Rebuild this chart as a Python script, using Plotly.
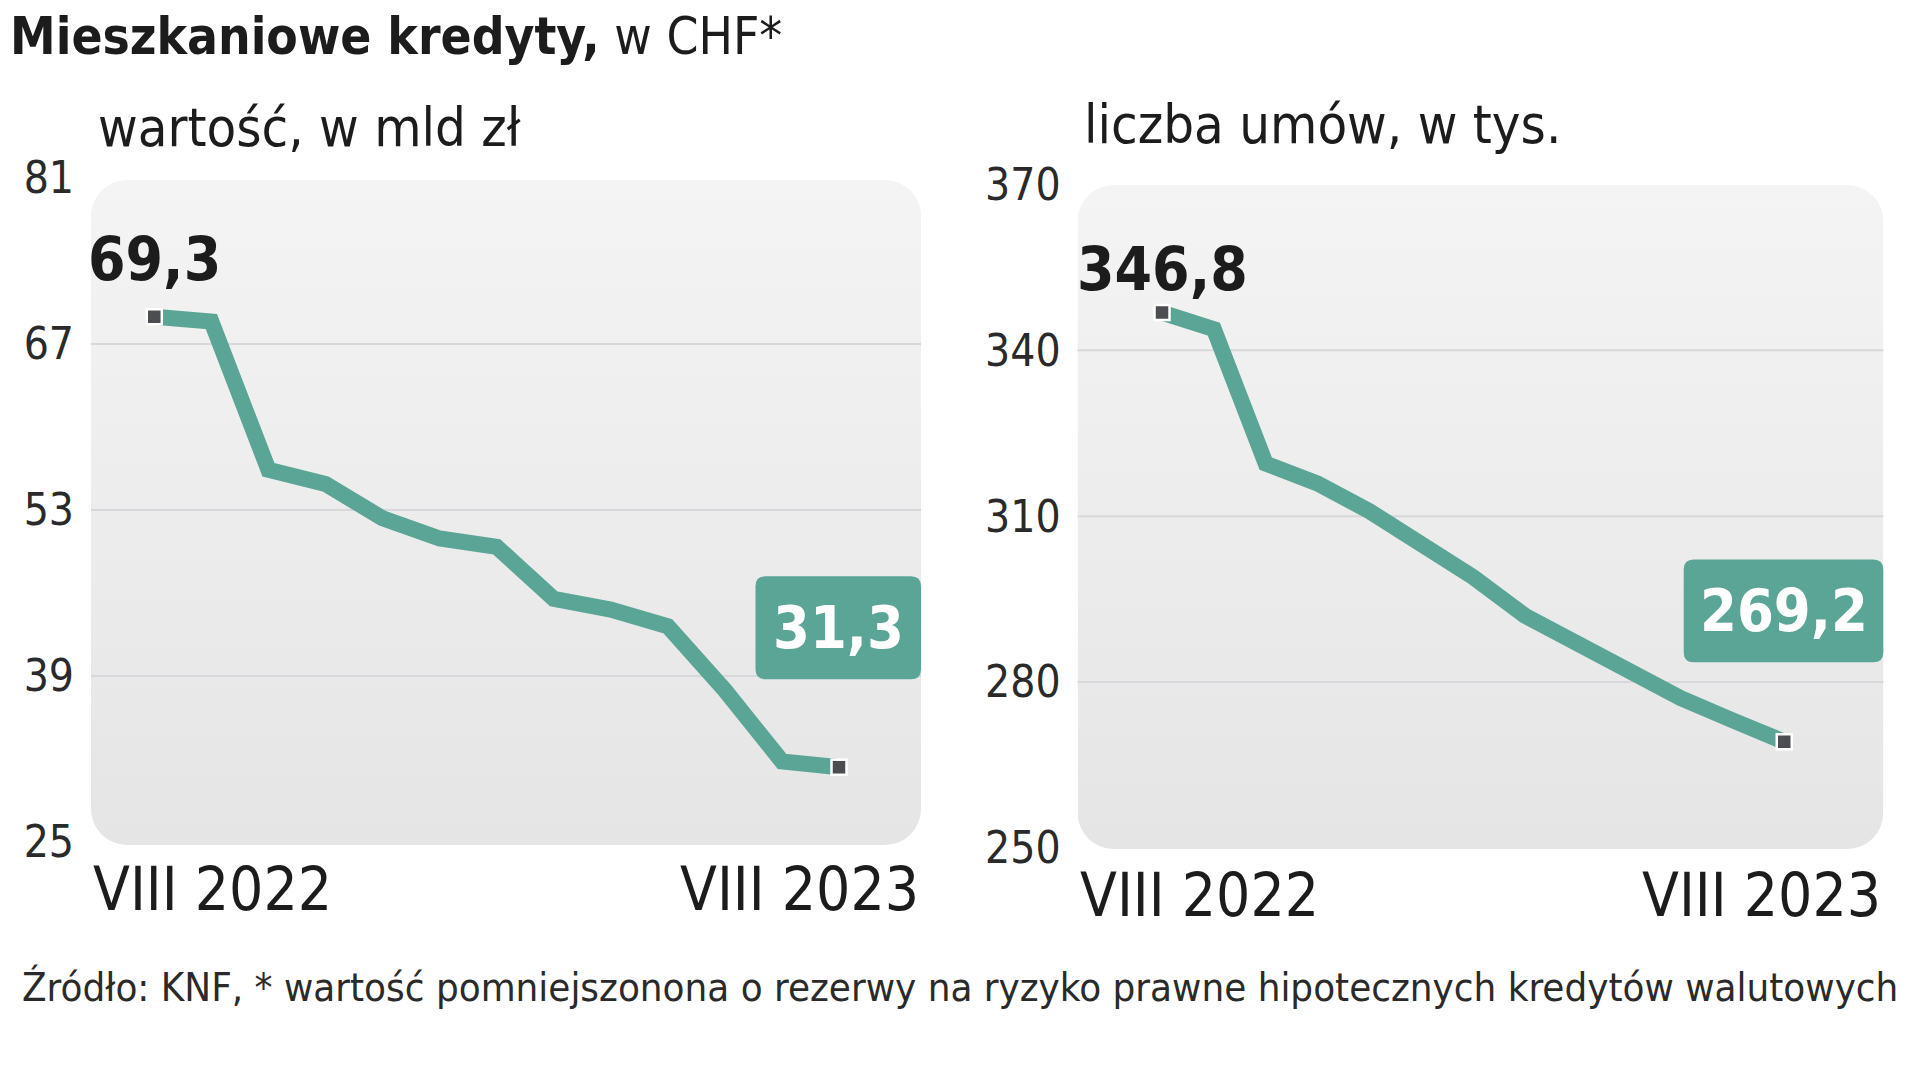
import base64
import plotly.graph_objects as go

# ---------------- data ----------------
months = ["VIII 2022", "IX 2022", "X 2022", "XI 2022", "XII 2022", "I 2023", "II 2023",
          "III 2023", "IV 2023", "V 2023", "VI 2023", "VII 2023", "VIII 2023"]
value_bn = [69.3, 68.9, 56.4, 55.2, 52.3, 50.6, 49.9, 45.5, 44.6, 43.2, 37.8, 31.8, 31.3]
contracts_k = [346.8, 343.8, 319.5, 315.9, 310.9, 305.2, 299.0, 292.0, 287.1, 282.4, 277.1, 273.1, 269.2]
left_ticks = [25, 39, 53, 67, 81]
right_ticks = [250, 280, 310, 340, 370]
title_bold = "Mieszkaniowe kredyty,"
title_rest = " w CHF*"
left_sub = "wartość, w mld zł"
right_sub = "liczba umów, w tys."
x_start_label = "VIII 2022"
x_end_label = "VIII 2023"
footer = "Źródło: KNF, * wartość pomniejszonona o rezerwy na ryzyko prawne hipotecznych kredytów walutowych"

# ---------------- style ----------------
W, H = 1920, 1067
OFF = 8  # page body margin
FONT = "DejaVu Sans Condensed, Liberation Sans Narrow, Roboto, sans-serif"
TEAL = "#5ba596"
DARK = "#1c1c1c"
MARK = "#4b4d51"
BG_TOP = "#f4f4f4"
BG_BOTTOM = "#e5e5e5"
GRID = "#d6d8db"


def fmt(v):
    return f"{v:.1f}".replace(".", ",")


def px_x(p):
    return (p - OFF) / W


def px_y(p):
    return 1 - (p - OFF) / H


def gradient_panel(w, h, r):
    svg = (f'<svg xmlns="http://www.w3.org/2000/svg" width="{w}" height="{h}" '
           f'viewBox="0 0 {w} {h}" preserveAspectRatio="none">'
           f'<defs><linearGradient id="g" x1="0" y1="0" x2="0" y2="1">'
           f'<stop offset="0" stop-color="{BG_TOP}"/><stop offset="1" stop-color="{BG_BOTTOM}"/>'
           f'</linearGradient></defs>'
           f'<rect x="0" y="0" width="{w}" height="{h}" rx="{r}" ry="{r}" fill="url(#g)"/></svg>')
    return "data:image/svg+xml;base64," + base64.b64encode(svg.encode()).decode()


def rounded_pixel(x0, y0, x1, y1, r):
    """rounded rect path in pixel offsets (y up)"""
    return (f"M {x0+r},{y0} L {x1-r},{y0} Q {x1},{y0} {x1},{y0+r} "
            f"L {x1},{y1-r} Q {x1},{y1} {x1-r},{y1} L {x0+r},{y1} "
            f"Q {x0},{y1} {x0},{y1-r} L {x0},{y0+r} Q {x0},{y0} {x0+r},{y0} Z")


panels = [
    dict(vals=value_bn, ticks=left_ticks, sub=left_sub,
         xl=91, xr=921, yt=178, yb=842, xrange=[-1.109, 13.437],
         rect=(91, 180, 921, 845), sub_x=96, sub_y=128,
         first_shift=58, box=(-165.5, 88, 0, 191), xlab_y=889),
    dict(vals=contracts_k, ticks=right_ticks, sub=right_sub,
         xl=1077.6, xr=1883.3, yt=184.3, yb=848, xrange=[-1.628, 13.91],
         rect=(1077.6, 185, 1883.3, 849), sub_x=1082, sub_y=124,
         first_shift=44, box=(-199.6, 79.5, 0, 182.4), xlab_y=895),
]

fig = go.Figure()
shapes = []
annotations = []
images = []

for i, p in enumerate(panels):
    sfx = "" if i == 0 else "2"
    xa, ya = "x" + sfx, "y" + sfx
    vals = p["vals"]

    # background panel (rounded, vertical gradient)
    x0, y0, x1, y1 = p["rect"]
    images.append(dict(source=gradient_panel(round(x1 - x0), round(y1 - y0), 36),
                       xref="paper", yref="paper", x=px_x(x0), y=px_y(y0),
                       sizex=(x1 - x0) / W, sizey=(y1 - y0) / H,
                       xanchor="left", yanchor="top", sizing="stretch", layer="below"))
    # gridlines (inner ticks only)
    for t in p["ticks"][1:-1]:
        shapes.append(dict(type="line", xref=xa + " domain", yref=ya, layer="below",
                           x0=0, x1=1, y0=t, y1=t, line=dict(color=GRID, width=2)))

    fig.add_trace(go.Scatter(x=months, y=vals, mode="lines", xaxis=xa, yaxis=ya,
                             line=dict(color=TEAL, width=16), hoverinfo="skip",
                             showlegend=False))
    fig.add_trace(go.Scatter(x=[months[0], months[-1]], y=[vals[0], vals[-1]],
                             mode="markers", xaxis=xa, yaxis=ya,
                             marker=dict(symbol="square", size=15, color=MARK,
                                         line=dict(color="white", width=2.5)),
                             hoverinfo="skip", showlegend=False))

    # first value label
    annotations.append(dict(x=months[0], y=vals[0], xref=xa, yref=ya,
                            text=f"<b>{fmt(vals[0])}</b>", showarrow=False,
                            xanchor="center", yanchor="middle", yshift=p["first_shift"],
                            font=dict(family=FONT, size=60, color=DARK)))
    # last value label box
    bx0, by0, bx1, by1 = p["box"]
    shapes.append(dict(type="path", xref=xa + " domain", yref=ya,
                       xsizemode="pixel", ysizemode="pixel",
                       xanchor=1, yanchor=vals[-1],
                       path=rounded_pixel(bx0, by0, bx1, by1, 10),
                       fillcolor=TEAL, line=dict(width=0), layer="above"))
    annotations.append(dict(x=1, y=vals[-1], xref=xa + " domain", yref=ya,
                            text=f"<b>{fmt(vals[-1])}</b>", showarrow=False,
                            xanchor="center", yanchor="middle",
                            xshift=(bx0 + bx1) / 2, yshift=(by0 + by1) / 2,
                            font=dict(family=FONT, size=59, color="white")))
    # subtitle
    annotations.append(dict(x=px_x(p["sub_x"]), y=px_y(p["sub_y"]), xref="paper", yref="paper",
                            text=p["sub"], showarrow=False, xanchor="left", yanchor="middle",
                            font=dict(family=FONT, size=54, color=DARK)))
    # x end labels
    annotations.append(dict(x=0, y=px_y(p["xlab_y"]), xref=xa + " domain", yref="paper",
                            text=x_start_label, showarrow=False, xanchor="left", yanchor="middle",
                            font=dict(family=FONT, size=60, color=DARK)))
    annotations.append(dict(x=1, y=px_y(p["xlab_y"]), xref=xa + " domain", yref="paper",
                            text=x_end_label, showarrow=False, xanchor="right", yanchor="middle",
                            font=dict(family=FONT, size=60, color=DARK)))

    xaxis = dict(domain=[px_x(p["xl"]), px_x(p["xr"])], range=p["xrange"], type="category",
                 showgrid=False, zeroline=False, showticklabels=False, showline=False,
                 ticks="", anchor=ya, fixedrange=True, automargin=False)
    yaxis = dict(domain=[px_y(p["yb"]), px_y(p["yt"])], range=[p["ticks"][0], p["ticks"][-1]],
                 tickvals=p["ticks"], ticktext=[str(t) for t in p["ticks"]],
                 showgrid=False, zeroline=False, showline=False, ticks="",
                 ticklabelstandoff=16, anchor=xa, fixedrange=True, automargin=False,
                 tickfont=dict(family=FONT, size=44, color="#2a2a2a"))
    fig.update_layout(**{"xaxis" + sfx: xaxis, "yaxis" + sfx: yaxis})

# title
annotations.append(dict(x=0, y=1, xref="paper", yref="paper",
                        text=f"<b>{title_bold}</b>{title_rest}", showarrow=False,
                        xanchor="left", yanchor="top", yshift=3,
                        font=dict(family=FONT, size=51, color=DARK)))
# footer
annotations.append(dict(x=px_x(20), y=px_y(987), xref="paper", yref="paper",
                        text=footer, showarrow=False, xanchor="left", yanchor="middle",
                        font=dict(family=FONT, size=39.9, color="#2a2a2a")))

fig.update_layout(width=W, height=H, autosize=False,
                  margin=dict(l=0, r=0, t=0, b=0, pad=0),
                  paper_bgcolor="white", plot_bgcolor="rgba(0,0,0,0)",
                  shapes=shapes, annotations=annotations, images=images,
                  showlegend=False)

fig.write_html("out.html")
